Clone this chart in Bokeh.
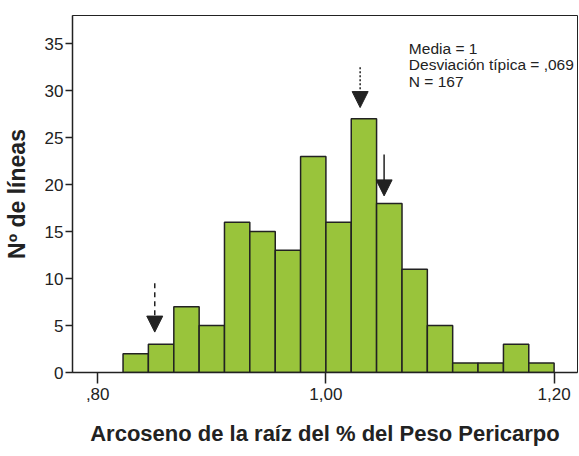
from bokeh.plotting import figure
from bokeh.models import FixedTicker, Range1d, Label, Arrow, NormalHead
from bokeh.embed import file_html
from bokeh.resources import INLINE

# ---- data ----
bin_edges = [0.8222, 0.8444, 0.8667, 0.8889, 0.9111, 0.9333, 0.9556, 0.9778,
             1.0000, 1.0222, 1.0444, 1.0667, 1.0889, 1.1111, 1.1333, 1.1556,
             1.1778, 1.2000]
counts = [2, 3, 7, 5, 16, 15, 13, 23, 16, 27, 18, 11, 5, 1, 1, 3, 1]

x_ticks = [0.80, 1.00, 1.20]
x_tick_labels = [",80", "1,00", "1,20"]
y_ticks = [0, 5, 10, 15, 20, 25, 30, 35]

stats_lines = ["Media = 1", "Desviación típica = ,069", "N = 167"]

# arrows: x position, start (top) and tip in counts
arrow_x = [0.850, 1.030, 1.051]
arrow_top = [9.5, 32.5, 23.2]
arrow_tip = [4.3, 28.2, 18.8]
arrow_dash = ["5 4", "2 2", "solid"]

FONT = "Liberation Sans"

p = figure(width=579, height=456, output_backend="svg", toolbar_location=None,
           x_range=Range1d(0.7779, 1.2205), y_range=Range1d(0, 38.0),
           min_border_left=71, min_border_right=2, min_border_top=15,
           min_border_bottom=84)
p.xgrid.visible = False
p.ygrid.visible = False
p.outline_line_color = "#222222"
p.outline_line_width = 1
p.background_fill_color = "white"
p.border_fill_color = "white"

p.quad(left=bin_edges[:-1], right=bin_edges[1:], bottom=0, top=counts,
       fill_color="#99c43b", line_color="#222222", line_width=1.5)

# axes
p.xaxis.ticker = FixedTicker(ticks=x_ticks)
p.xaxis.major_label_overrides = {t: l for t, l in zip(x_ticks, x_tick_labels)}
p.xaxis.minor_tick_line_color = None
p.xaxis.major_tick_in = 0
p.xaxis.major_tick_out = 11
p.xaxis.major_label_standoff = 4
p.xaxis.axis_label = "Arcoseno de la raíz del % del Peso Pericarpo"
p.xaxis.axis_label_standoff = 18

p.yaxis.ticker = FixedTicker(ticks=y_ticks)
p.yaxis.minor_tick_line_color = None
p.yaxis.major_tick_in = 0
p.yaxis.major_tick_out = 7
p.yaxis.major_label_standoff = 2
p.yaxis.axis_label = "Nº de líneas"
p.yaxis.axis_label_standoff = 12

for ax in (p.xaxis[0], p.yaxis[0]):
    ax.axis_line_color = "#222222"
    ax.axis_line_width = 1.5
    ax.major_tick_line_color = "#222222"
    ax.major_tick_line_width = 1.5
    ax.major_label_text_font = FONT
    ax.major_label_text_font_size = "17px"
    ax.major_label_text_color = "#222222"
    ax.axis_label_text_font = FONT
    ax.axis_label_text_font_style = "bold"
    ax.axis_label_text_color = "#222222"
p.xaxis.axis_label_text_font_size = "22px"
p.yaxis.axis_label_text_font_size = "23px"

# stats text
stat_y = [34.47, 32.77, 31.0]
for txt, yy in zip(stats_lines, stat_y):
    p.add_layout(Label(x=1.0727, y=yy, text=txt, text_font=FONT,
                       text_font_size="15.5px", text_color="#222222",
                       text_baseline="alphabetic"))

# arrows
for xx, y0, y1, dash in zip(arrow_x, arrow_top, arrow_tip, arrow_dash):
    p.add_layout(Arrow(x_start=xx, y_start=y0, x_end=xx, y_end=y1,
                       line_color="#222222", line_width=1.5, line_dash=dash,
                       end=NormalHead(size=16, fill_color="#222222",
                                      line_color="#222222", line_width=1)))

open("out.html", "w").write(file_html(p, INLINE))
